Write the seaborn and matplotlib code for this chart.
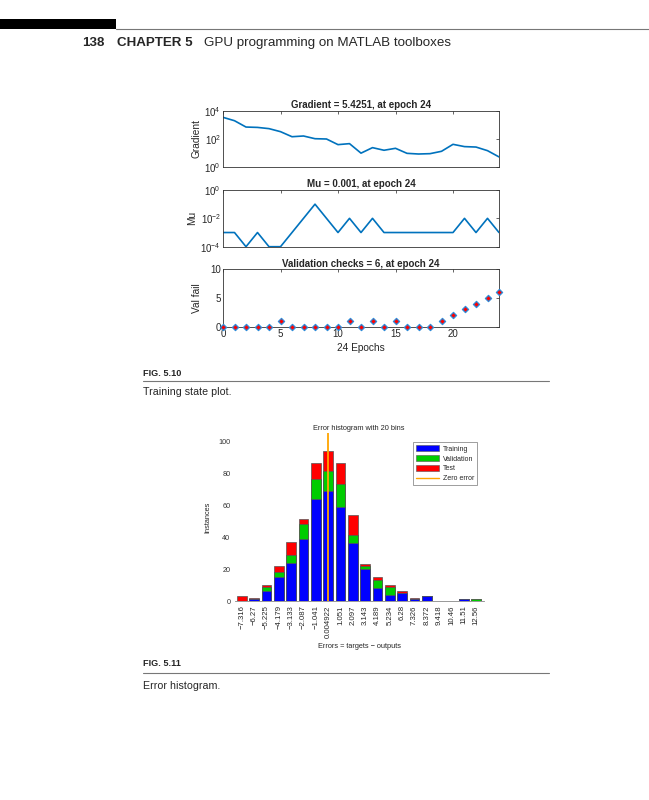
import numpy as np
import pandas as pd
import matplotlib
matplotlib.use('Agg')
import matplotlib.pyplot as plt
import seaborn as sns
from matplotlib.patches import Rectangle, Patch
from matplotlib.lines import Line2D
from matplotlib.ticker import FixedLocator, NullLocator

# training state data (24 epochs)
epochs = list(range(25))
gradient = [3400, 1960, 700, 660, 540, 330, 145, 163, 105, 100, 40, 47, 10,
            24.5, 16, 22, 9.7, 8.7, 9.2, 13.5, 42, 29, 27, 15, 5.4251]
mu = [1e-3, 1e-3, 1e-4, 1e-3, 1e-4, 1e-4, 1e-3, 1e-2, 1e-1, 1e-2, 1e-3, 1e-2, 1e-3,
      1e-2, 1e-3, 1e-3, 1e-3, 1e-3, 1e-3, 1e-3, 1e-3, 1e-2, 1e-3, 1e-2, 1e-3]
val_fail = [0, 0, 0, 0, 0, 1, 0, 0, 0, 0, 0, 1, 0, 1, 0, 1, 0, 0, 0, 1, 2, 3, 4, 5, 6]

# error histogram data (20 bins)
bin_centers = [-7.316, -6.27, -5.225, -4.179, -3.133, -2.087, -1.041, 0.004922, 1.051, 2.097,
               3.143, 4.189, 5.234, 6.28, 7.326, 8.372, 9.418, 10.46, 11.51, 12.56]
bin_labels = ['\u22127.316', '\u22126.27', '\u22125.225', '\u22124.179', '\u22123.133',
              '\u22122.087', '\u22121.041', '0.004922', '1.051', '2.097', '3.143', '4.189',
              '5.234', '6.28', '7.326', '8.372', '9.418', '10.46', '11.51', '12.56']
training = [0, 1, 6, 15, 24, 39, 64, 69, 59, 36, 20, 8, 4, 5, 1, 3, 0, 0, 1, 0]
validation = [0, 0, 3, 3, 5, 9, 12, 12, 14, 5, 2, 5, 5, 0, 0, 0, 0, 0, 0, 1]
test = [3, 1, 1, 4, 8, 3, 10, 13, 13, 13, 1, 2, 1, 1, 1, 0, 0, 0, 0, 0]

sns.set_style('white')
plt.rcParams['font.family'] = ['Liberation Sans', 'DejaVu Sans']
plt.rcParams['mathtext.fontset'] = 'custom'
plt.rcParams['mathtext.rm'] = 'Liberation Sans'
plt.rcParams['axes.unicode_minus'] = True

W, H = 649, 800
fig = plt.figure(figsize=(6.49, 8.0), dpi=100)


def box(x0, y0, x1, y1):
    # pixel box (top-left origin) -> figure fraction
    return [x0 / W, 1 - y1 / H, (x1 - x0) / W, (y1 - y0) / H]


def fx(x):
    return x / W


def fy(y):
    return 1 - y / H


# page header
fig.patches.append(Rectangle((0, fy(29)), fx(116), 10 / H, transform=fig.transFigure,
                             facecolor='black', edgecolor='none'))
fig.lines.append(Line2D([fx(116), 1], [fy(29), fy(29)], transform=fig.transFigure,
                        color='#777777', lw=0.8))
fig.text(fx(82), fy(43), '138', fontsize=9.6, fontweight='bold', va='center')
fig.text(fx(117), fy(43), 'CHAPTER 5', fontsize=9.6, fontweight='bold', va='center')
fig.text(fx(204), fy(43), 'GPU programming on MATLAB toolboxes', fontsize=9.6, va='center')

blue_line = '#0072BD'
spine_col = '#333333'


def style_state_axes(ax):
    for s in ax.spines.values():
        s.set_visible(True)
        s.set_color(spine_col)
        s.set_linewidth(0.6)
    ax.tick_params(direction='in', length=2, width=0.5, top=True, right=True,
                   labelsize=7, pad=1.5)
    ax.set_xlim(0, 24)
    ax.xaxis.set_major_locator(FixedLocator([0, 5, 10, 15, 20]))


# Gradient
ax1 = fig.add_axes(box(223, 110.7, 499, 167.3))
sns.lineplot(x=epochs, y=gradient, ax=ax1, color=blue_line, lw=1.2)
ax1.set_yscale('log')
ax1.set_ylim(1, 1e4)
ax1.yaxis.set_major_locator(FixedLocator([1, 1e2, 1e4]))
ax1.yaxis.set_minor_locator(NullLocator())
style_state_axes(ax1)
ax1.set_xticklabels([])
ax1.set_title('Gradient = 5.4251, at epoch 24', fontsize=7, fontweight='bold', pad=2)
ax1.set_ylabel('Gradient', fontsize=7.3, labelpad=2)

# Mu
ax2 = fig.add_axes(box(223, 190, 499, 246.7))
sns.lineplot(x=epochs, y=mu, ax=ax2, color=blue_line, lw=1.2)
ax2.set_yscale('log')
ax2.set_ylim(1e-4, 1)
ax2.yaxis.set_major_locator(FixedLocator([1e-4, 1e-2, 1]))
ax2.yaxis.set_minor_locator(NullLocator())
style_state_axes(ax2)
ax2.set_xticklabels([])
ax2.set_title('Mu = 0.001, at epoch 24', fontsize=7, fontweight='bold', pad=2)
ax2.set_ylabel('Mu', fontsize=7.3, labelpad=2)

# Validation checks
ax3 = fig.add_axes(box(223, 269.3, 499, 326.7))
sns.scatterplot(x=epochs, y=val_fail, ax=ax3, marker='D', s=10, color='red',
                edgecolor='#2E8BD8', linewidth=0.9, clip_on=False, zorder=5)
ax3.set_ylim(0, 10)
ax3.yaxis.set_major_locator(FixedLocator([0, 5, 10]))
style_state_axes(ax3)
ax3.set_title('Validation checks = 6, at epoch 24', fontsize=7, fontweight='bold', pad=2)
ax3.set_ylabel('Val fail', fontsize=7.3, labelpad=6)
ax3.set_xlabel('24 Epochs', fontsize=7.3, labelpad=3)

# caption 5.10
fig.text(fx(143), fy(373), 'FIG. 5.10', fontsize=6.6, fontweight='bold', va='center')
fig.lines.append(Line2D([fx(143), fx(549)], [fy(381), fy(381)], transform=fig.transFigure,
                        color='#777777', lw=0.8))
fig.text(fx(143), fy(392), 'Training state plot.', fontsize=7.7, va='center')

# Error histogram
ax4 = fig.add_axes(box(234.5, 433, 483.5, 601))
df = pd.DataFrame({'bin': bin_labels, 'center': bin_centers,
                   'Training': training, 'Validation': validation, 'Test': test})
df['tv'] = df['Training'] + df['Validation']
df['total'] = df['tv'] + df['Test']
edge = '#555555'
sns.barplot(data=df, x='bin', y='total', color='#FF0000', saturation=1, ax=ax4,
            edgecolor=edge, linewidth=0.5, width=0.8)
sns.barplot(data=df, x='bin', y='tv', color='#00CC00', saturation=1, ax=ax4,
            edgecolor=edge, linewidth=0.5, width=0.8)
sns.barplot(data=df, x='bin', y='Training', color='#0000FF', saturation=1, ax=ax4,
            edgecolor=edge, linewidth=0.5, width=0.8)
# hide zero-height bar outlines
for p in ax4.patches:
    if p.get_height() == 0:
        p.set_visible(False)
zero_pos = np.interp(0, bin_centers, np.arange(len(bin_centers)))
ax4.axvline(zero_pos, color='#FFA500', lw=1.3, zorder=6)
ax4.set_xlim(-0.6, 19.6)
ax4.set_ylim(0, 105)
ax4.set_yticks([0, 20, 40, 60, 80, 100])
for s in ['left', 'top', 'right']:
    ax4.spines[s].set_visible(False)
ax4.spines['bottom'].set_color('#888888')
ax4.spines['bottom'].set_linewidth(0.6)
ax4.tick_params(axis='y', direction='out', length=1, width=0.4, colors='#333333',
                labelsize=5.2, pad=2)
ax4.tick_params(axis='x', length=0, labelsize=5.6, pad=3, labelrotation=90)
ax4.set_title('Error histogram with 20 bins', fontsize=5.3, pad=2)
ax4.set_ylabel('Instances', fontsize=5.3, labelpad=5)
ax4.set_xlabel('Errors = targets \u2212 outputs', fontsize=5.3, labelpad=4)
handles = [Patch(facecolor='#0000FF', edgecolor=edge, lw=0.4, label='Training'),
           Patch(facecolor='#00CC00', edgecolor=edge, lw=0.4, label='Validation'),
           Patch(facecolor='#FF0000', edgecolor=edge, lw=0.4, label='Test'),
           Line2D([0], [0], color='#FFA500', lw=1, label='Zero error')]
leg = ax4.legend(handles=handles, loc='upper left', bbox_to_anchor=(fx(413), fy(442)),
                 bbox_transform=fig.transFigure, fontsize=5.0, frameon=True, fancybox=False,
                 handlelength=3.3, handleheight=1.0, handletextpad=0.5, borderpad=0.45,
                 labelspacing=0.35, borderaxespad=0)
leg.get_frame().set_edgecolor('#555555')
leg.get_frame().set_linewidth(0.5)

# caption 5.11
fig.text(fx(143), fy(664), 'FIG. 5.11', fontsize=6.6, fontweight='bold', va='center')
fig.lines.append(Line2D([fx(143), fx(549)], [fy(673), fy(673)], transform=fig.transFigure,
                        color='#777777', lw=0.8))
fig.text(fx(143), fy(686), 'Error histogram.', fontsize=7.7, va='center')

fig.savefig('out.png', dpi=100)
